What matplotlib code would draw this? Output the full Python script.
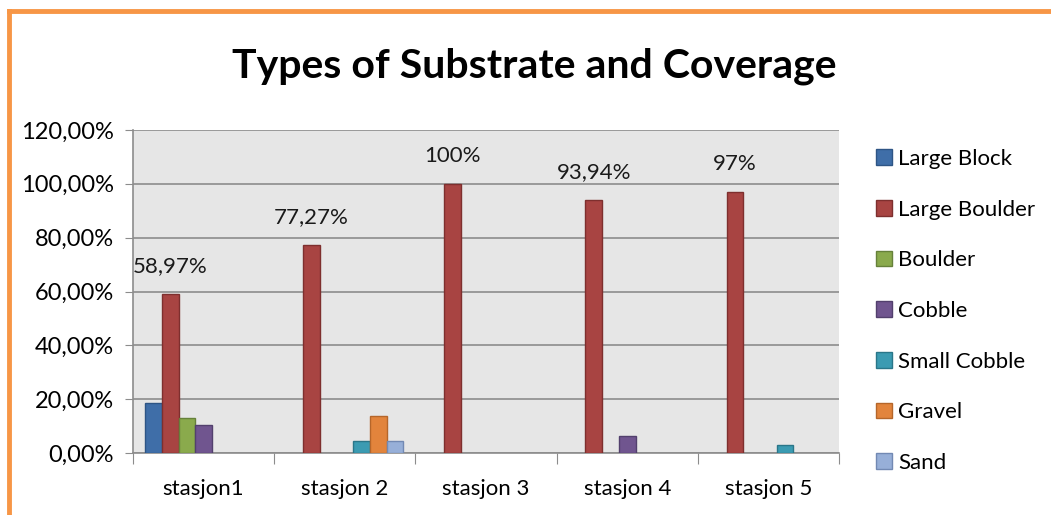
import numpy as np
import matplotlib.pyplot as plt
from matplotlib.lines import Line2D

stations = ['stasjon1', 'stasjon 2', 'stasjon 3', 'stasjon 4', 'stasjon 5']
substrates = ['Large Block', 'Large Boulder', 'Boulder', 'Cobble',
              'Small Cobble', 'Gravel', 'Sand']

# percent cover per substrate, one value per station
large_block = [18.5, 0, 0, 0, 0]
large_boulder = [58.97, 77.27, 100, 93.94, 97]
boulder = [12.9, 0, 0, 0, 0]
cobble = [10.4, 0, 0, 6.3, 0]
small_cobble = [0, 4.5, 0, 0, 3.0]
gravel = [0, 13.8, 0, 0, 0]
sand = [0, 4.5, 0, 0, 0]

boulder_labels = ['58,97%', '77,27%', '100%', '93,94%', '97%']
ytick_vals = [0, 20, 40, 60, 80, 100, 120]
ytick_labels = ['0,00%', '20,00%', '40,00%', '60,00%', '80,00%', '100,00%', '120,00%']

colors = ['#3F6EA8', '#A84442', '#8AAA4C', '#70558F', '#3B9BB2', '#E2843C', '#97AFD8']
edges = ['#2E5585', '#7E2F2E', '#66813A', '#52406D', '#2A7689', '#B5662A', '#7289B3']

plt.rcParams['font.family'] = ['Lato', 'DejaVu Sans']

fig = plt.figure(figsize=(10.51, 5.15), dpi=100)
ax = fig.add_axes([133 / 1051, 62 / 515, 706 / 1051, 323 / 515])
ax.set_facecolor('#E6E6E6')

series = [large_block, large_boulder, boulder, cobble, small_cobble, gravel, sand]
x = np.arange(len(stations))
n = len(series)
w = 1 / (n + 1.44)
for i, vals in enumerate(series):
    offs = (i - (n - 1) / 2) * w
    vals = np.array(vals, dtype=float)
    h = np.where(vals > 0, vals, np.nan)
    ax.bar(x + offs, h, w, color=colors[i], edgecolor=edges[i], linewidth=1,
           label=substrates[i], zorder=3)
    if i == 1:
        for xi, v, lab in zip(x + offs, vals, boulder_labels):
            ax.annotate(lab, (xi, v), xytext=(0, 13), textcoords='offset points',
                        ha='center', va='bottom', fontsize=16, color='#1a1a1a')

ax.set_xlim(-0.5, len(stations) - 0.5)
ax.set_ylim(0, 120)
ax.set_yticks(ytick_vals)
ax.set_yticklabels(ytick_labels, fontsize=17)
ax.yaxis.grid(True, color='#8C8C8C', linewidth=1.2, zorder=0)
ax.tick_params(axis='y', length=6, color='#8C8C8C', pad=8)

ax.set_xticks(np.arange(len(stations) + 1) - 0.5)
ax.set_xticklabels([])
ax.set_xticks(x, minor=True)
ax.set_xticklabels(stations, minor=True, fontsize=16)
ax.tick_params(axis='x', which='major', length=8, color='#8C8C8C')
ax.tick_params(axis='x', which='minor', length=0, pad=19)

for s in ['top', 'right']:
    ax.spines[s].set_visible(False)
for s in ['left', 'bottom']:
    ax.spines[s].set_color('#8C8C8C')
    ax.spines[s].set_linewidth(1.2)

fig.text(534 / 1051, 1 - 66 / 515, 'Types of Substrate and Coverage',
         ha='center', va='center', fontsize=29.5, fontweight='bold')

ax.legend(loc='center left', bbox_to_anchor=(1.04, 0.44), frameon=False,
          fontsize=16, handlelength=0.7, handleheight=0.7, handletextpad=0.3,
          labelspacing=1.38, borderaxespad=0)

# orange frame around the chart
fig.add_artist(Line2D([9 / 1051, 9 / 1051], [-0.1, 1 - 11 / 515],
                      color='#F79646', linewidth=3.5, transform=fig.transFigure))
fig.add_artist(Line2D([9 / 1051, 1.1], [1 - 11 / 515, 1 - 11 / 515],
                      color='#F79646', linewidth=3.5, transform=fig.transFigure))

fig.savefig('out.png', dpi=100)
